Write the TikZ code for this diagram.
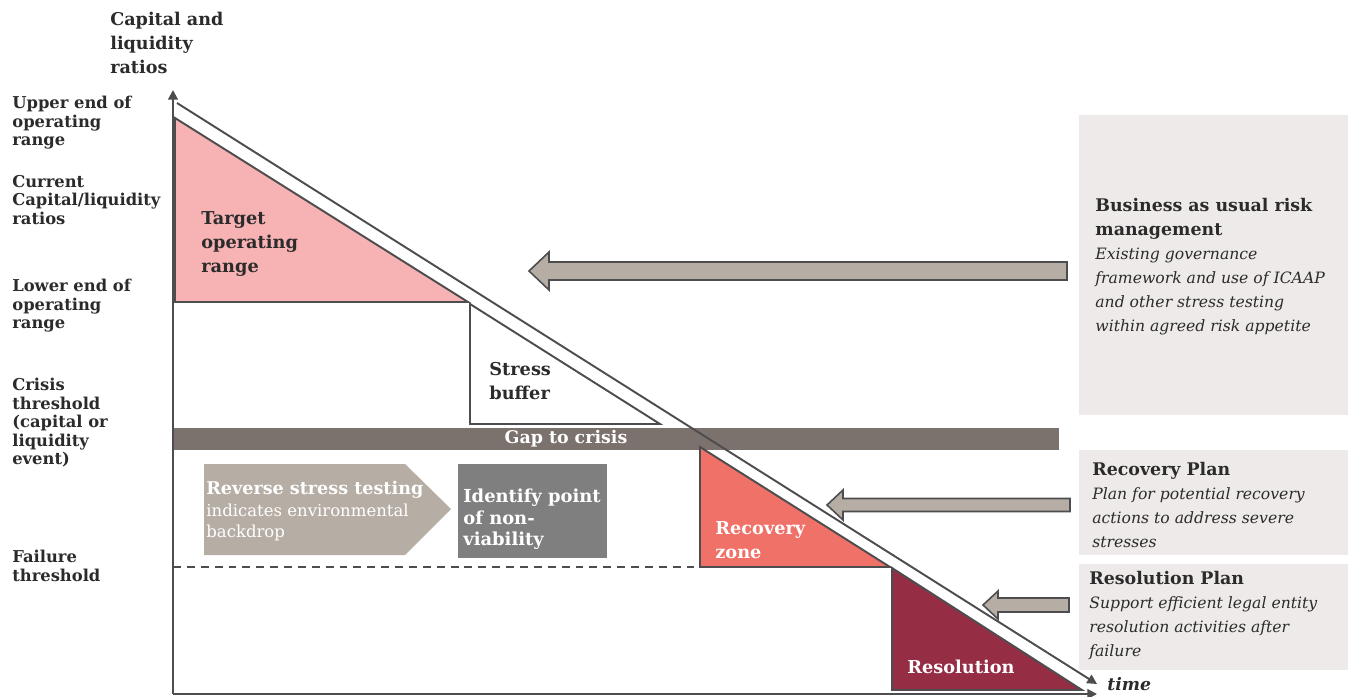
\documentclass[tikz,border=0pt]{standalone}
\usepackage{fontspec}
\setmainfont{DejaVu Serif}
\usetikzlibrary{arrows.meta, positioning, calc}
\definecolor{linegray}{HTML}{4D4D4F}
\definecolor{textdark}{HTML}{2B2B2B}
\definecolor{targetpink}{HTML}{F7B2B3}
\definecolor{recoveryred}{HTML}{F07167}
\definecolor{resolutionred}{HTML}{952E45}
\definecolor{gapbrown}{HTML}{7B726D}
\definecolor{arrowtaupe}{HTML}{B6ADA4}
\definecolor{pointgray}{HTML}{7F7F7F}
\definecolor{boxgray}{HTML}{EEEAE9}
\newcommand{\plantitle}[1]{{\fontsize{9.9}{13.6}\selectfont\bfseries #1}}

\tikzset{
  axislabel/.style={anchor=north west, inner sep=0pt, align=left, text=textdark,
    font=\fontsize{9.3}{10.5}\selectfont\bfseries},
  zonelabel/.style={anchor=north west, inner sep=0pt, align=left,
    font=\fontsize{10.1}{13.6}\selectfont\bfseries},
  planlabel/.style={anchor=north west, inner sep=0pt, align=left, text=textdark,
    font=\fontsize{8.9}{13.6}\selectfont},
  zone/.style={draw=linegray, line width=1.1pt, line join=miter},
  blockarrow/.style={draw=linegray, fill=arrowtaupe, line width=0.9pt},
  axis/.style={linegray, line width=1.2pt, -{Triangle[length=5.5pt, width=5.5pt]}},
}

\begin{document}
\begin{tikzpicture}[x=0.02cm, y=-0.02cm]
    \useasboundingbox (0,0) rectangle (1351,696);

    % Plan boxes
    \fill[boxgray] (1079,115) rectangle (1348,415);
    \fill[boxgray] (1079,450) rectangle (1348,555);
    \fill[boxgray] (1079,564) rectangle (1348,670);

    % Gap to crisis
    \fill[gapbrown] (172,428) rectangle (1059,450);
    \node[font=\fontsize{9.9}{11}\selectfont\bfseries, text=white] (gap) at (566,439) {Gap to crisis};

    % Zones under the trajectory
    \draw[zone, fill=targetpink] (175,118) -- (175,302) -- (468,302) -- cycle;
    \draw[zone] (470,304) -- (470,424) -- (660,424) -- cycle;
    \draw[zone, fill=recoveryred] (700,447) -- (700,567) -- (890,567) -- cycle;
    \draw[zone, fill=resolutionred] (892,568) -- (892,690) -- (1082,690) -- cycle;

    % Failure threshold
    \draw[linegray, line width=0.8pt, dash pattern=on 4.5pt off 3.4pt] (173,567) -- (700,567);

    % Reverse stress testing and point of non-viability
    \fill[arrowtaupe] (204,464) -- (405,464) -- (451,509) -- (405,555) -- (204,555) -- cycle;
    \fill[pointgray] (458,464) rectangle (607,558);

    % Axes
    \coordinate (origin) at (173,694);
    \coordinate (ratiotip) at (173,90);
    \coordinate (timetip) at (1097,694);
    \draw[axis] (origin) -- (ratiotip);
    \draw[axis] (origin) -- (timetip);

    % Trajectory
    \coordinate (trendstart) at (177,103);
    \coordinate (trendend) at (1097,684);
    \draw[axis, line width=1.1pt] (trendstart) -- (trendend);

    % Arrows from the plans
    \draw[blockarrow] (529,271) -- (549,252) -- (549,262) -- (1067,262) -- (1067,280) -- (549,280) -- (549,290) -- cycle;
    \draw[blockarrow] (827,505) -- (843,490) -- (843,498.5) -- (1070,498.5) -- (1070,511.5) -- (843,511.5) -- (843,520) -- cycle;
    \draw[blockarrow] (983,605) -- (998,591) -- (998,598) -- (1069,598) -- (1069,612) -- (998,612) -- (998,619) -- cycle;

    % Axis labels
    \node[axislabel, font=\fontsize{10}{13.6}\selectfont\bfseries] (ratios) at (110,12) {Capital and\\liquidity\\ratios};
    \node[axislabel] (upper) at (12,96) {Upper end of\\operating\\range};
    \node[axislabel] (current) at (12,175) {Current\\Capital/liquidity\\ratios};
    \node[axislabel] (lower) at (12,279) {Lower end of\\operating\\range};
    \node[axislabel] (crisis) at (12,378) {Crisis\\threshold\\(capital or\\liquidity\\event)};
    \node[axislabel] (failure) at (12,550) {Failure\\threshold};
    \node[anchor=west, inner sep=0pt, text=textdark, font=\fontsize{9.8}{11}\selectfont\bfseries\itshape, right=0.2cm of trendend] (time) {time};

    % Zone labels
    \node[zonelabel, text=textdark] (target) at (201,211) {Target\\operating\\range};
    \node[zonelabel, text=textdark] (buffer) at (489,362) {Stress\\buffer};
    \node[zonelabel, text=white] (recovery) at (715,521) {Recovery\\zone};
    \node[zonelabel, text=white] (resolution) at (907,660) {Resolution};
    \node[zonelabel, text=white, font=\fontsize{9.4}{12.2}\selectfont] (reverse) at (206,481)
        {{\fontsize{10}{12.2}\selectfont\bfseries Reverse stress testing}\\indicates environmental\\backdrop};
    \node[zonelabel, text=white, font=\fontsize{10.2}{12.2}\selectfont\bfseries] (nonviable) at (463,489)
        {Identify point\\of non-\\viability};

    % Plan texts
    \node[planlabel] (bau) at (1095,198) {\plantitle{Business as usual risk}\\\plantitle{management}\\
        \textit{Existing governance}\\\textit{framework and use of ICAAP}\\
        \textit{and other stress testing}\\\textit{within agreed risk appetite}};
    \node[planlabel] (recplan) at (1092,462) {\plantitle{Recovery Plan}\\
        \textit{Plan for potential recovery}\\
        \textit{actions to address severe}\\\textit{stresses}};
    \node[planlabel] (resplan) at (1089,571) {\plantitle{Resolution Plan}\\
        \textit{Support efficient legal entity}\\
        \textit{resolution activities after}\\\textit{failure}};
\end{tikzpicture}
\end{document}
